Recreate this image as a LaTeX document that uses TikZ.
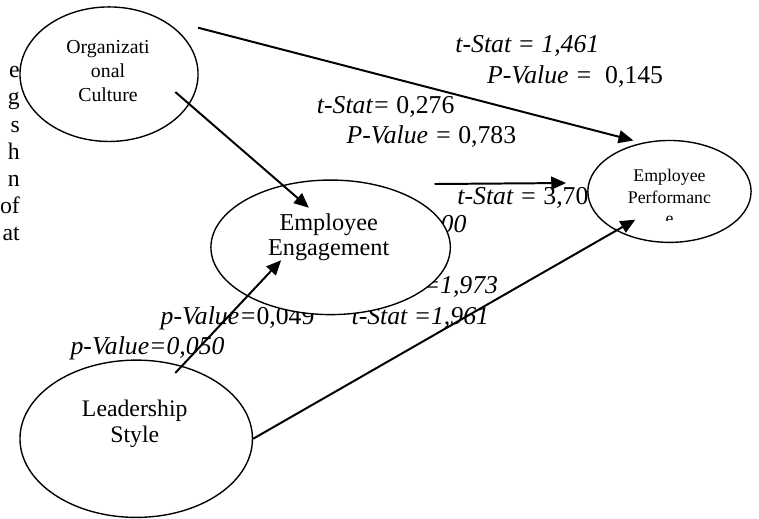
\documentclass[tikz,border=0pt]{standalone}
\usepackage{fontspec}
\setmainfont{Liberation Serif}
\usetikzlibrary{arrows.meta, shapes.geometric}

\begin{document}
\begin{tikzpicture}[x=1pt, y=-1pt, >={Triangle[length=15pt, width=13pt]},
    construct/.style={draw, ellipse, fill=white, line width=1.4pt, inner sep=0pt},
    label txt/.style={anchor=north, align=center, inner sep=0pt},
    stat/.style={anchor=base west, inner sep=0pt, font=\fontsize{26}{30}\selectfont\itshape},
    link/.style={->, line width=2pt}]
    \fill[white] (0,0) rectangle (759,524);
    % page text behind the model
    \node[anchor=north east, align=right, inner sep=0pt, font=\fontsize{24}{27.5}\selectfont]
        (bodytext) at (13,67) {e\\g\\s\\h\\n\\of\\at};
    % path statistics
    \node[stat] (t-oc-ep) at (453,53) {t-Stat = 1,461};
    \node[stat] (p-oc-ep) at (485,84) {P-Value = \ \textup{0,145}};
    \node[stat] (t-oc-ee) at (313,115) {t-Stat=\textup{ 0,276}};
    \node[stat] (p-oc-ee) at (343,145) {P-Value = \textup{0,783}};
    \node[stat] (t-ee-ep) at (455,207) {t-Stat = \textup{3,70}};
    \node[stat] (p-ee-ep) at (438,235) {00};
    \node[stat] (t-ls-ee) at (420,297) {=1,973};
    \node[stat] (p-ls-ee) at (155,328) {p-Value=\textup{0,049}};
    \node[stat] (t-ls-ep) at (348,328) {t-Stat =1,961};
    \node[stat] (p-ls-ep) at (64,358) {p-Value=0,050};
    % constructs
    \node[construct, minimum width=180pt, minimum height=136pt] (oc) at (103,75) {};
    \node[construct, minimum width=242pt, minimum height=136pt] (ee) at (327,250) {};
    \node[construct, minimum width=165pt, minimum height=103pt] (ep) at (669.5,193.5) {};
    \node[construct, minimum width=235pt, minimum height=159pt] (ls) at (130.5,443.5) {};
    \node[label txt, font=\fontsize{20}{24}\selectfont] (oc-txt) at (102,41)
        {Organizati\\onal\\Culture};
    \node[label txt, font=\fontsize{24.5}{25}\selectfont] (ee-txt) at (325,216)
        {Employee\\Engagement};
    \node[label txt, font=\fontsize{24}{26}\selectfont] (ls-txt) at (129,404.5)
        {Leadership\\Style};
    \begin{scope}
        \clip (580,160) rectangle (760,223);
        \node[label txt, font=\fontsize{18}{22}\selectfont] (ep-txt) at (669.5,170.7)
            {Employee\\Performanc\\e};
    \end{scope}
    % arrows
    \coordinate (oc-ep-a) at (193,28);
    \coordinate (oc-ep-b) at (633,142);
    \coordinate (oc-ee-a) at (170,93);
    \coordinate (oc-ee-b) at (305,210);
    \coordinate (ee-ep-a) at (432,186);
    \coordinate (ee-ep-b) at (565,185);
    \coordinate (ls-ee-a) at (170,377);
    \coordinate (ls-ee-b) at (277,263);
    \coordinate (ls-ep-b) at (635,222);
    \draw[link] (oc-ep-a) -- (oc-ep-b);
    \draw[link] (oc-ee-a) -- (oc-ee-b);
    \draw[link] (ee-ep-a) -- (ee-ep-b);
    \draw[link] (ls-ee-a) -- (ls-ee-b);
    \draw[link] (ls.east) -- (ls-ep-b);
\end{tikzpicture}
\end{document}
